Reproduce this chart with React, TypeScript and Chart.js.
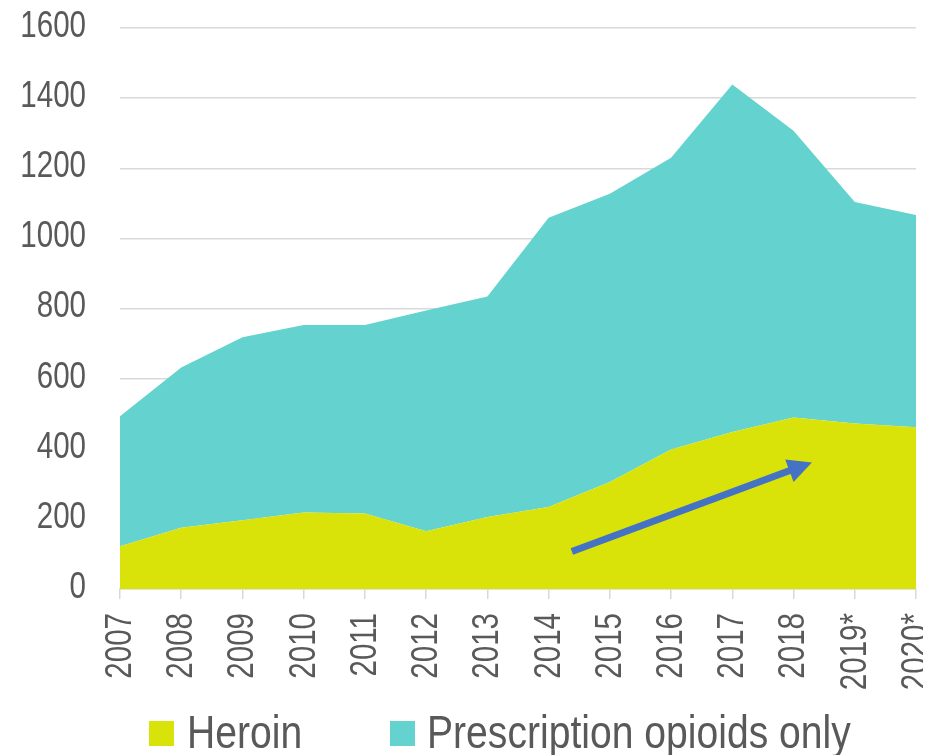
import React, { useEffect, useRef } from "react";
import { Chart, registerables } from "chart.js";

Chart.register(...registerables);

const years = ["2007", "2008", "2009", "2010", "2011", "2012", "2013", "2014", "2015", "2016", "2017", "2018", "2019*", "2020*"];
const heroin = [122, 175, 196, 218, 215, 165, 205, 234, 305, 398, 448, 489, 472, 461];
const prescriptionOnly = [371, 457, 522, 535, 538, 629, 629, 825, 822, 832, 991, 818, 632, 606];
const yTicks = [0, 200, 400, 600, 800, 1000, 1200, 1400, 1600];
// arrow annotation: [category index, value]
const arrowStart = [7.38, 107];
const arrowEnd = [11.3, 361];

const FONT = "'Liberation Sans', Arial, sans-serif";
const NARROW = 0.82; // horizontal condensing to imitate Arial Narrow
const TEXT = "#595959";
const YELLOW = "#d9e30a";
const TEAL = "#64d2ce";
const ARROW = "#4472c4";

const arrowPlugin = {
  id: "trendArrow",
  afterDatasetsDraw(chart: any) {
    const { ctx, scales } = chart;
    const x1 = scales.x.getPixelForValue(arrowStart[0]);
    const y1 = scales.y.getPixelForValue(arrowStart[1]);
    const x2 = scales.x.getPixelForValue(arrowEnd[0]);
    const y2 = scales.y.getPixelForValue(arrowEnd[1]);
    const ang = Math.atan2(y2 - y1, x2 - x1);
    const headLen = 24;
    const headW = 12;
    const bx = x2 - headLen * Math.cos(ang);
    const by = y2 - headLen * Math.sin(ang);
    ctx.save();
    ctx.strokeStyle = ARROW;
    ctx.fillStyle = ARROW;
    ctx.lineWidth = 7;
    ctx.lineCap = "butt";
    ctx.beginPath();
    ctx.moveTo(x1, y1);
    ctx.lineTo(bx + 2 * Math.cos(ang), by + 2 * Math.sin(ang));
    ctx.stroke();
    ctx.beginPath();
    ctx.moveTo(x2, y2);
    ctx.lineTo(bx + headW * Math.sin(ang), by - headW * Math.cos(ang));
    ctx.lineTo(bx - headW * Math.sin(ang), by + headW * Math.cos(ang));
    ctx.closePath();
    ctx.fill();
    ctx.restore();
  },
};

// Draws the tick labels in a condensed face (canvas cannot pick a narrow font here)
const narrowTicksPlugin = {
  id: "narrowTicks",
  afterDraw(chart: any) {
    const { ctx, scales, chartArea } = chart;
    ctx.save();
    ctx.fillStyle = TEXT;
    ctx.font = `36px ${FONT}`;
    // y axis
    ctx.textAlign = "right";
    ctx.textBaseline = "middle";
    scales.y.ticks.forEach((t: any) => {
      const y = scales.y.getPixelForValue(t.value);
      ctx.save();
      ctx.translate(chartArea.left - 34, y - 1);
      ctx.scale(NARROW, 1);
      ctx.fillText(String(t.value), 0, 0);
      ctx.restore();
    });
    // x axis, rotated
    const top = chartArea.bottom + 10 + 14;
    scales.x.ticks.forEach((t: any, i: number) => {
      const x = scales.x.getPixelForTick(i);
      const label = chart.data.labels[i];
      ctx.save();
      ctx.translate(x, top);
      ctx.rotate(-Math.PI / 2);
      ctx.scale(NARROW, 1);
      ctx.textAlign = "right";
      ctx.textBaseline = "middle";
      ctx.fillText(String(label), 0, 1);
      ctx.restore();
    });
    ctx.restore();
  },
};

export default function App() {
  const ref = useRef<HTMLCanvasElement>(null);
  useEffect(() => {
    if (!ref.current) return;
    const chart = new Chart(ref.current, {
      type: "line",
      data: {
        labels: years,
        datasets: [
          {
            label: "Heroin",
            data: heroin,
            backgroundColor: YELLOW,
            borderColor: YELLOW,
            borderWidth: 0,
            pointRadius: 0,
            fill: "origin",
            tension: 0,
          },
          {
            label: "Prescription opioids only",
            data: prescriptionOnly,
            backgroundColor: TEAL,
            borderColor: TEAL,
            borderWidth: 0,
            pointRadius: 0,
            fill: "-1",
            tension: 0,
          },
        ],
      },
      options: {
        animation: false,
        responsive: false,
        maintainAspectRatio: false,
        layout: { padding: { top: 20, right: 7, left: 112, bottom: 156 } },
        plugins: { legend: { display: false }, tooltip: { enabled: false } },
        scales: {
          x: {
            offset: false,
            grid: { drawOnChartArea: false, drawTicks: true, tickLength: 10, color: "#d9d9d9", lineWidth: 1.5 },
            border: { display: true, color: "#d9d9d9", width: 1.5 },
            ticks: { display: false, autoSkip: false },
          },
          y: {
            stacked: true,
            min: 0,
            max: 1600,
            afterBuildTicks: (axis: any) => {
              axis.ticks = yTicks.map((v) => ({ value: v }));
            },
            grid: { drawTicks: false, color: "#d9d9d9", lineWidth: 1.5 },
            border: { display: false },
            ticks: { display: false },
          },
        },
      },
      plugins: [arrowPlugin, narrowTicksPlugin],
    });
    return () => chart.destroy();
  }, []);

  const legendText: React.CSSProperties = {
    position: "absolute",
    fontFamily: FONT,
    fontSize: 46,
    color: TEXT,
    lineHeight: "46px",
    whiteSpace: "nowrap",
    transform: "scaleX(0.85)",
    transformOrigin: "left center",
  };
  const box = (left: number, color: string): React.CSSProperties => ({
    position: "absolute",
    left,
    top: 713,
    width: 25,
    height: 25,
    background: color,
  });

  return (
    <div style={{ position: "relative", width: 915, height: 747 }}>
      <style>{"html,body{overflow:hidden}"}</style>
      <canvas ref={ref} width={915} height={747} style={{ display: "block" }} />
      <div style={box(141, YELLOW)} />
      <div style={{ ...legendText, left: 179, top: 701 }}>Heroin</div>
      <div style={box(382, TEAL)} />
      <div style={{ ...legendText, left: 419, top: 701 }}>Prescription opioids only</div>
    </div>
  );
}
